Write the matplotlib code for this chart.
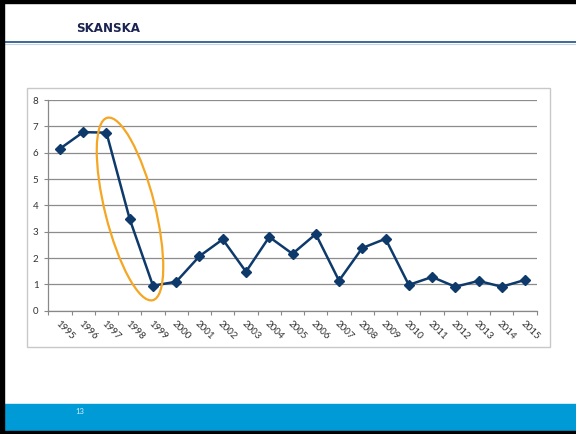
import matplotlib
matplotlib.use("Agg")
import matplotlib.pyplot as plt
from matplotlib.patches import Rectangle, Ellipse
from matplotlib.lines import Line2D

years = [str(y) for y in range(1995, 2016)]
values = [6.15, 6.78, 6.76, 3.48, 0.95, 1.10, 2.07, 2.71, 1.48, 2.80, 2.16,
          2.91, 1.14, 2.38, 2.73, 0.98, 1.28, 0.91, 1.13, 0.91, 1.17]
yticks = [0, 1, 2, 3, 4, 5, 6, 7, 8]

W, H = 576, 434
fig = plt.figure(figsize=(W / 100, H / 100), dpi=100)
fig.patch.set_facecolor("white")
font = ["Lato", "DejaVu Sans"]

def px(x, y):
    return x / W, 1 - y / H

# slide frame: black borders
fig.add_artist(Rectangle((0, 0), 4 / W, 1, transform=fig.transFigure, color="black", zorder=10))
fig.add_artist(Rectangle((0, 1 - 3 / H), 1, 3 / H, transform=fig.transFigure, color="black", zorder=10))
fig.add_artist(Rectangle((0, 0), 1, 3 / H, transform=fig.transFigure, color="black", zorder=10))
# footer bar
fig.add_artist(Rectangle((0, 3 / H), 1, (431 - 404) / H, transform=fig.transFigure, color="#009BD7", zorder=5))
fig.text(*px(75, 412), "13", color="#D8EEF8", fontsize=5.5, family=font, va="center", ha="left", zorder=6)
# header
fig.text(*px(76, 28), "SKANSKA", color="#1B2450", fontsize=8.6, fontweight="bold",
         family=["DejaVu Sans"], va="center", ha="left")
fig.add_artist(Line2D([4 / W, 1], [1 - 42 / H, 1 - 42 / H], transform=fig.transFigure, color="#2E5E8E", lw=1.3))
fig.add_artist(Line2D([4 / W, 1], [1 - 43.5 / H, 1 - 43.5 / H], transform=fig.transFigure, color="#C8D4E0", lw=0.8))
# chart frame
fig.add_artist(Rectangle(px(27, 347), (550 - 27) / W, (347 - 88) / H, transform=fig.transFigure,
                         fill=False, edgecolor="#C8C8C8", lw=1.0, zorder=1))

ax = fig.add_axes([48.3 / W, 1 - 310.7 / H, (536.7 - 48.3) / W, (310.7 - 100) / H])
x = list(range(len(years)))
ax.plot(x, values, color="#0E3A6B", lw=1.8, marker="D", markersize=4.8, zorder=3)
ax.set_xlim(-0.5, len(years) - 0.5)
ax.set_ylim(0, 8)
ax.set_yticks(yticks)
ax.set_yticklabels([str(v) for v in yticks], fontsize=7, family=font, color="#333333")
ax.set_xticks([i - 0.5 for i in range(len(years) + 1)])
ax.set_xticklabels([])
ax.set_xticks(x, minor=True)
ax.set_xticklabels(years, minor=True, rotation=-45, ha="left", va="top", rotation_mode="anchor",
                   fontsize=7, family=font, color="#333333")
ax.tick_params(axis="x", which="minor", length=0, pad=6)
ax.tick_params(axis="x", which="major", length=3, color="#888888")
ax.tick_params(axis="y", length=3, color="#888888", pad=4)
ax.grid(axis="y", color="#8C8C8C", lw=0.9)
ax.set_axisbelow(True)
for s in ["top", "right"]:
    ax.spines[s].set_visible(False)
for s in ["left", "bottom"]:
    ax.spines[s].set_color("#888888")
    ax.spines[s].set_linewidth(0.9)

# highlight ellipse (pixel/inch placement)
ell = Ellipse((130 / 100, (H - 209) / 100), 0.50, 1.88, angle=14, transform=fig.dpi_scale_trans,
              fill=False, edgecolor="#F5A623", lw=1.6, zorder=8)
fig.add_artist(ell)

fig.savefig("out.png", dpi=100)
